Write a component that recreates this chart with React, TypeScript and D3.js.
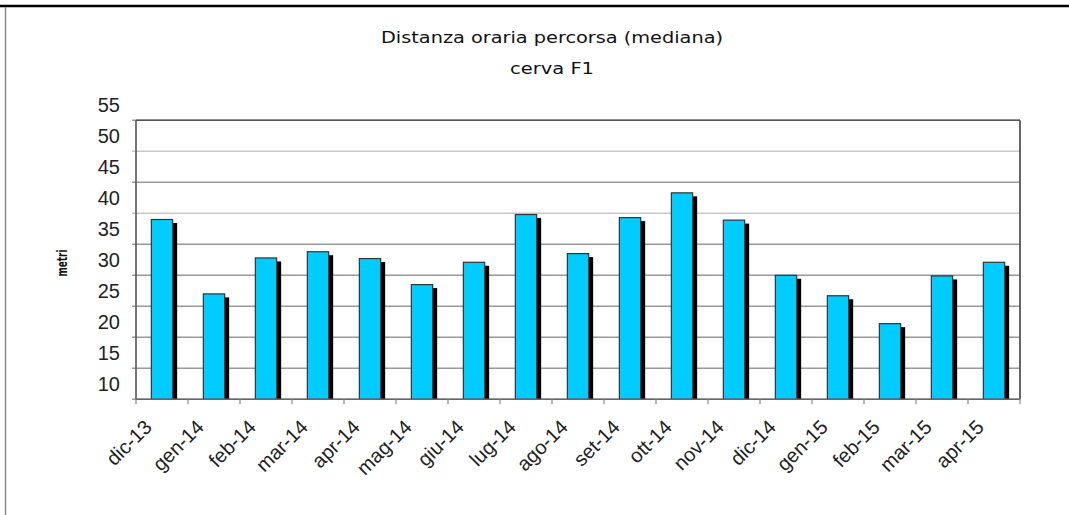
import React from "react";
import * as d3 from "d3";

const categories = [
  "dic-13", "gen-14", "feb-14", "mar-14", "apr-14", "mag-14", "giu-14", "lug-14", "ago-14",
  "set-14", "ott-14", "nov-14", "dic-14", "gen-15", "feb-15", "mar-15", "apr-15",
];
const values = [39.0, 27.0, 32.8, 33.8, 32.7, 28.5, 32.1, 39.8, 33.5, 39.3, 43.3, 38.9, 30.0, 26.7, 22.2, 29.9, 32.1];
const yTicks = [10, 15, 20, 25, 30, 35, 40, 45, 50, 55];
const title = "Distanza oraria percorsa (mediana)";
const subtitle = "cerva F1";
const yLabel = "metri";

export default function App() {
  const W = 1069;
  const H = 515;
  const left = 136, right = 1020, top = 120.3, bottom = 399.3;
  const x = d3.scaleBand<string>().domain(categories).range([left, right]).padding(0);
  const y = d3.scaleLinear().domain([10, 55]).range([bottom, top]);
  const bw = x.bandwidth() * 0.41;
  const step = y(10) - y(15);
  const boundaries = d3.range(categories.length + 1).map((i) => left + i * x.bandwidth());
  const comic = "'Comic Sans MS', 'DejaVu Sans', sans-serif";
  const arial = "Arial, 'Liberation Sans', sans-serif";

  return (
    <svg width={W} height={H} style={{ position: "absolute", left: 0, top: 0, background: "#fff" }}>
      <rect x={0} y={0} width={W} height={H} fill="#fff" />
      {/* outer frame */}
      <line x1={0} x2={W} y1={6} y2={6} stroke="#000" strokeWidth={2.6} />
      <line x1={5.5} x2={5.5} y1={7} y2={H} stroke="#8a8a8a" strokeWidth={1.5} />

      {/* titles */}
      <text x={552} y={43} textAnchor="middle" fontFamily={comic} fontSize={16} fill="#111"
        textLength={342} lengthAdjust="spacingAndGlyphs">{title}</text>
      <text x={552} y={74} textAnchor="middle" fontFamily={comic} fontSize={16} fill="#111"
        textLength={84} lengthAdjust="spacingAndGlyphs">{subtitle}</text>
      <text transform={`translate(67,263) rotate(-90)`} textAnchor="middle" fontFamily={comic}
        fontSize={14} fontWeight="bold" fill="#111" textLength={27} lengthAdjust="spacingAndGlyphs">{yLabel}</text>

      {/* gridlines */}
      {yTicks.map((t) => (
        <line key={"g" + t} x1={left - 4} x2={right} y1={y(t)} y2={y(t)}
          stroke={t === 40 || t === 50 ? "#c8c8c8" : "#9a9a9a"} strokeWidth={1.6} />
      ))}
      {/* y labels (offset upward as in the reference) */}
      {yTicks.map((t) => (
        <text key={"yl" + t} x={120} y={y(t) - step / 2 + 7.5} textAnchor="end" fontFamily={arial}
          fontSize={20} fill="#222">{t}</text>
      ))}

      {/* bars */}
      {categories.map((c, i) => {
        const bx = (x(c) as number) + (x.bandwidth() - bw) / 2;
        const by = y(values[i]);
        return (
          <g key={c}>
            <rect x={bx + 4.5} y={by + 3.5} width={bw} height={bottom - by - 3.5} fill="#000" />
            <rect x={bx} y={by} width={bw} height={bottom - by} fill="#00CCFF" stroke="#333" strokeWidth={1.2} />
          </g>
        );
      })}

      {/* plot frame */}
      <line x1={left} x2={right} y1={top} y2={top} stroke="#555" strokeWidth={1.6} />
      <line x1={left} x2={left} y1={top} y2={bottom} stroke="#555" strokeWidth={1.6} />
      <line x1={right} x2={right} y1={top} y2={bottom} stroke="#555" strokeWidth={1.8} />
      <line x1={left} x2={right} y1={bottom} y2={bottom} stroke="#666" strokeWidth={1.6} />

      {/* x ticks */}
      {boundaries.map((b, i) => (
        <line key={"xt" + i} x1={b} x2={b} y1={bottom} y2={bottom + 5} stroke="#888" strokeWidth={1.2} />
      ))}

      {/* x labels */}
      {categories.map((c) => {
        const cx = (x(c) as number) + x.bandwidth() / 2;
        return (
          <text key={"xl" + c} transform={`translate(${cx - 9},${bottom + 29}) rotate(-45)`}
            textAnchor="end" fontFamily={arial} fontSize={20} fill="#222">{c}</text>
        );
      })}
    </svg>
  );
}
